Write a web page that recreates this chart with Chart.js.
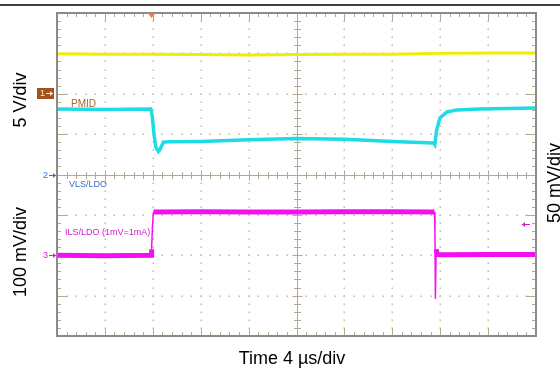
<!doctype html>
<html>

<head>
    <title>PMID / ILS-LDO transient</title>
    <script src="https://cdn.jsdelivr.net/npm/chart.js"></script>
    <style>
        body { margin: 0; background: #fff; }
    </style>
</head>

<body>
    <canvas id="scope" width="560" height="369"></canvas>

    <script>
        // time in us (4 us/div, 10 div), values in screen divisions (-4..4)
        var vinT = [0, 4, 8, 12, 16, 20, 24, 28, 32, 36, 40];
        var vinV = [2.99, 2.98, 2.98, 2.97, 2.96, 2.97, 2.98, 2.98, 3.0, 3.01, 3.01];

        var pmidT = [0, 4, 7.83, 7.95, 8.1, 8.25, 8.46, 8.6, 8.88, 9.3, 12, 16, 20, 24, 28, 31.45, 31.55, 31.7, 31.98, 32.57, 33.4, 35.3, 40];
        var pmidV = [1.62, 1.61, 1.62, 1.45, 1.0, 0.68, 0.57, 0.62, 0.8, 0.81, 0.82, 0.86, 0.89, 0.87, 0.82, 0.78, 0.74, 1.1, 1.4, 1.55, 1.6, 1.62, 1.65];

        var ilsT = [0, 4, 7.85, 7.9, 7.97, 8.05, 12, 16, 20, 24, 28, 31.52, 31.56, 31.6, 31.66, 31.75, 32, 36, 40];
        var ilsV = [-2.0, -2.01, -2.0, -1.85, -1.3, -0.93, -0.92, -0.93, -0.93, -0.92, -0.92, -0.93, -1.4, -3.08, -1.85, -1.98, -1.99, -1.98, -1.98];

        function punkte(t, v) {
            return t.map(function (x, i) { return { x: x, y: v[i] }; });
        }

        function steil(ctx) {
            var dx = Math.abs(ctx.p1.parsed.x - ctx.p0.parsed.x);
            var dy = Math.abs(ctx.p1.parsed.y - ctx.p0.parsed.y);
            return (dy > 0.3 && dx < 0.2) ? 1.5 : undefined;
        }

        var FONT = "'Liberation Sans', Arial, sans-serif";

        var scopeFrame = {
            id: 'scopeFrame',
            beforeDraw: function (chart) {
                var ctx = chart.ctx;
                ctx.save();
                ctx.fillStyle = '#fff';
                ctx.fillRect(0, 0, chart.width, chart.height);
                ctx.strokeStyle = '#000';
                ctx.lineWidth = 1.5;
                ctx.beginPath();
                ctx.moveTo(0, 5);
                ctx.lineTo(chart.width, 5);
                ctx.stroke();
                ctx.restore();
            },
            beforeDatasetsDraw: function (chart) {
                var ctx = chart.ctx, a = chart.chartArea;
                var x = chart.scales.x, y = chart.scales.y;
                ctx.save();
                // dotted grid
                ctx.fillStyle = '#c2baa5';
                for (var k = 1; k < 10; k++) {
                    if (k == 5) continue;
                    var px = Math.round(x.getPixelForValue(k * 4));
                    for (var j = 1; j < 40; j++) {
                        ctx.fillRect(px - 0.5, Math.round(y.getPixelForValue(-4 + j * 0.2)) - 0.5, 1.5, 1.5);
                    }
                }
                for (var k = 1; k < 8; k++) {
                    if (k == 4) continue;
                    var py = Math.round(y.getPixelForValue(-4 + k));
                    for (var j = 1; j < 50; j++) {
                        ctx.fillRect(Math.round(x.getPixelForValue(j * 0.8)) - 0.5, py - 0.5, 1.5, 1.5);
                    }
                }
                // center axes
                var cx = Math.round(x.getPixelForValue(20)) + 0.5;
                var cy = Math.round(y.getPixelForValue(0)) + 0.5;
                ctx.strokeStyle = '#b3a98f';
                ctx.lineWidth = 1;
                ctx.beginPath();
                ctx.moveTo(a.left, cy); ctx.lineTo(a.right, cy);
                ctx.moveTo(cx, a.top); ctx.lineTo(cx, a.bottom);
                for (var j = 1; j < 50; j++) {
                    var tx = Math.round(x.getPixelForValue(j * 0.8)) + 0.5;
                    var l = (j % 5 == 0) ? 5 : 3.5;
                    ctx.moveTo(tx, cy - l); ctx.lineTo(tx, cy + l);
                    var lb = (j % 5 == 0) ? 8 : 4;
                    ctx.moveTo(tx, a.top); ctx.lineTo(tx, a.top + lb);
                    ctx.moveTo(tx, a.bottom); ctx.lineTo(tx, a.bottom - lb);
                }
                for (var j = 1; j < 40; j++) {
                    var ty = Math.round(y.getPixelForValue(-4 + j * 0.2)) + 0.5;
                    var l = (j % 5 == 0) ? 5 : 3.5;
                    ctx.moveTo(cx - l, ty); ctx.lineTo(cx + l, ty);
                    var lb = (j % 5 == 0) ? 10 : 4;
                    ctx.moveTo(a.left, ty); ctx.lineTo(a.left + lb, ty);
                    ctx.moveTo(a.right, ty); ctx.lineTo(a.right - lb, ty);
                }
                ctx.stroke();
                ctx.restore();
            },
            afterDatasetsDraw: function (chart) {
                var ctx = chart.ctx, a = chart.chartArea;
                var x = chart.scales.x, y = chart.scales.y;
                ctx.save();
                // frame
                ctx.strokeStyle = '#8a8a8a';
                ctx.lineWidth = 2;
                ctx.strokeRect(a.left, a.top, a.right - a.left, a.bottom - a.top);

                // trigger marker
                var trig = x.getPixelForValue(7.9);
                ctx.fillStyle = '#f07a3c';
                ctx.beginPath();
                ctx.moveTo(trig - 4, a.top); ctx.lineTo(trig + 4, a.top); ctx.lineTo(trig, a.top + 5);
                ctx.fill();

                function pfeil(x0, x1, yy, farbe) {
                    ctx.strokeStyle = farbe;
                    ctx.fillStyle = farbe;
                    ctx.lineWidth = 1;
                    ctx.beginPath();
                    ctx.moveTo(x0, yy); ctx.lineTo(x1, yy);
                    ctx.stroke();
                    var d = x1 > x0 ? -3 : 3;
                    ctx.beginPath();
                    ctx.moveTo(x1, yy); ctx.lineTo(x1 + d, yy - 2.5); ctx.lineTo(x1 + d, yy + 2.5);
                    ctx.fill();
                }

                // channel markers
                ctx.fillStyle = '#a3521c';
                ctx.fillRect(37, 88, 17, 11);
                ctx.font = '9px ' + FONT;
                ctx.textBaseline = 'middle';
                ctx.textAlign = 'left';
                ctx.fillStyle = '#f8ead8';
                ctx.fillText('1', 40, 94);
                pfeil(46, 53, 93.5, '#f8ead8');

                var y2 = Math.round(y.getPixelForValue(0)) + 0.5;
                ctx.fillStyle = '#3a6ec8';
                ctx.fillText('2', 43, y2);
                pfeil(49, 56, y2, '#3a6ec8');

                var y3 = Math.round(y.getPixelForValue(-2)) + 0.5;
                ctx.fillStyle = '#d81ad8';
                ctx.fillText('3', 43, y3);
                pfeil(49, 56, y3, '#d81ad8');

                pfeil(530, 522, 224.5, '#c81ac8');

                // trace labels
                ctx.textBaseline = 'alphabetic';
                ctx.font = '10px ' + FONT;
                ctx.fillStyle = '#a8622c';
                ctx.fillText('PMID', 71, 107);
                ctx.font = '9px ' + FONT;
                ctx.fillStyle = '#3a6ec8';
                ctx.fillText('VLS/LDO', 69, 187);
                ctx.fillStyle = '#d020d0';
                ctx.fillText('ILS/LDO (1mV=1mA)', 65, 235);

                // scale texts
                ctx.fillStyle = '#000';
                ctx.font = '18px ' + FONT;
                ctx.textAlign = 'center';
                ctx.textBaseline = 'middle';
                ctx.fillText('Time 4 \u00b5s/div', 292, 359);
                var seiten = [['5 V/div', 21, 100], ['100 mV/div', 21, 252], ['50 mV/div', 555, 183]];
                seiten.forEach(function (s) {
                    ctx.save();
                    ctx.translate(s[1], s[2]);
                    ctx.rotate(-Math.PI / 2);
                    ctx.fillText(s[0], 0, 0);
                    ctx.restore();
                });
                ctx.restore();
            }
        };

        var scope = new Chart(document.getElementById('scope').getContext('2d'), {
            type: 'line',
            data: {
                datasets: [{
                    label: 'VIN',
                    data: punkte(vinT, vinV),
                    borderColor: '#eeee00',
                    borderWidth: 3
                }, {
                    label: 'PMID',
                    data: punkte(pmidT, pmidV),
                    borderColor: '#1edce6',
                    borderWidth: 3.5
                }, {
                    label: 'ILS/LDO',
                    data: punkte(ilsT, ilsV),
                    borderColor: '#f010f0',
                    borderWidth: 5,
                    segment: { borderWidth: steil }
                }]
            },
            options: {
                responsive: false,
                animation: false,
                layout: { padding: { left: 57, right: 24, top: 13, bottom: 33 } },
                elements: { point: { radius: 0 }, line: { tension: 0 } },
                scales: {
                    x: { type: 'linear', min: 0, max: 40, display: false },
                    y: { type: 'linear', min: -4, max: 4, display: false }
                },
                plugins: {
                    legend: { display: false },
                    tooltip: { enabled: false }
                }
            },
            plugins: [scopeFrame]
        });
    </script>
</body>

</html>
